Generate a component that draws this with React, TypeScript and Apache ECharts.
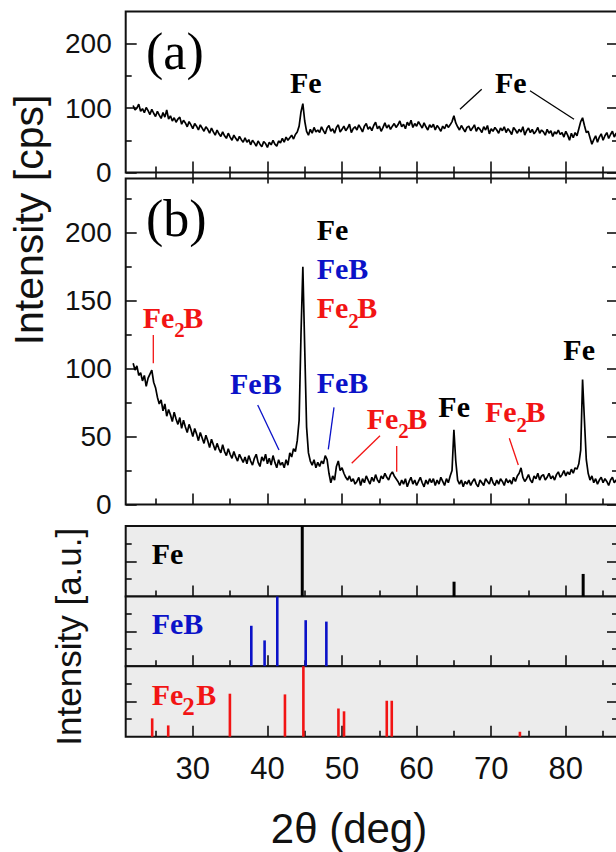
import React, { useEffect, useRef } from 'react';
import * as echarts from 'echarts';

// 2theta grid of the measured patterns (deg)
const ANGLE_START = 22;
const ANGLE_STEP = 0.25;

// (a) measured intensity [cps], 22.00 ... 87.00 deg
const INTENSITY_A = [
  104, 97, 100, 106, 95, 99, 93, 101, 96, 90, 98, 92, 87, 95, 89, 84, 93, 86, 97, 83,
  88, 80, 85, 78, 83, 86, 75, 81, 77, 71, 79, 74, 68, 76, 72, 66, 74, 69, 64, 71,
  67, 61, 69, 63, 58, 66, 60, 56, 63, 57, 53, 61, 55, 50, 58, 53, 49, 56, 51, 47,
  54, 47, 51, 43, 50, 46, 41, 49, 44, 40, 48, 45, 39, 47, 43, 50, 44, 41, 49, 46,
  53, 47, 55, 50, 54, 58, 52, 59, 63, 72, 94, 107, 80, 64, 58, 67, 61, 70, 63, 66,
  62, 71, 65, 60, 69, 73, 64, 68, 61, 70, 74, 63, 67, 72, 65, 69, 75, 62, 68, 71,
  66, 74, 69, 63, 72, 76, 67, 71, 65, 73, 78, 68, 72, 64, 70, 77, 69, 74, 67, 72,
  76, 70, 74, 80, 71, 75, 68, 78, 73, 81, 70, 76, 72, 79, 74, 69, 77, 71, 66, 74,
  70, 75, 66, 73, 69, 64, 72, 68, 75, 70, 74, 79, 88, 77, 71, 66, 73, 68, 63, 70,
  72, 65, 69, 74, 64, 70, 67, 62, 71, 66, 73, 60, 68, 64, 70, 66, 61, 69, 65, 71,
  62, 68, 64, 59, 70, 66, 61, 67, 63, 71, 58, 65, 69, 62, 67, 60, 64, 70, 61, 66,
  63, 58, 67, 61, 65, 56, 63, 60, 66, 59, 62, 55, 64, 58, 50, 61, 54, 62, 57, 68,
  79, 85, 73, 62, 64, 54, 44, 51, 57, 47, 55, 60, 50, 57, 62, 53, 59, 64, 55, 61,
  57,
];

// (b) measured intensity [cps], 22.00 ... 87.00 deg
const INTENSITY_B = [
  104, 99, 102, 95, 97, 91, 95, 87, 93, 96, 99, 90, 86, 79, 74, 77, 69, 74, 65, 70,
  66, 61, 68, 63, 59, 64, 56, 62, 57, 53, 59, 55, 50, 56, 52, 47, 53, 49, 45, 51,
  47, 42, 48, 44, 40, 45, 41, 38, 44, 39, 36, 41, 37, 34, 39, 35, 32, 37, 34, 31,
  35, 30, 36, 32, 29, 34, 37, 31, 28, 35, 32, 37, 30, 34, 29, 36, 31, 27, 33, 29,
  31, 27, 33, 29, 38, 35, 41, 39, 47, 62, 125, 175, 115, 57, 38, 32, 29, 33, 27, 31,
  28, 32, 30, 36, 33, 23, 16, 21, 18, 28, 32, 25, 27, 23, 20, 18, 21, 17, 19, 15,
  17, 20, 14, 19, 16, 21, 18, 15, 20, 17, 22, 18, 16, 21, 19, 23, 20, 18, 22, 24,
  21, 19, 17, 14, 18, 15, 19, 13, 17, 20, 15, 18, 14, 17, 20, 16, 13, 18, 15, 19,
  16, 19, 14, 18, 15, 20, 17, 14, 19, 16, 21, 25, 55, 32, 18, 15, 18, 13, 17, 15,
  18, 14, 17, 19, 15, 13, 18, 16, 14, 19, 17, 15, 20, 16, 14, 18, 15, 19, 17, 14,
  19, 16, 18, 15, 20, 17, 21, 23, 27, 20, 17, 19, 22, 18, 16, 21, 19, 23, 18, 21,
  22, 18, 20, 23, 19, 21, 18, 22, 24, 20, 22, 25, 21, 24, 22, 26, 23, 27, 26, 30,
  40, 92, 62, 33, 23, 18, 21, 16, 19, 15, 18, 20, 16, 19, 17, 14, 18, 20, 16, 18,
  17,
];

// reference patterns (relative intensity %)
const FE_POS = [44.67, 65.02, 82.33];
const FE_INT = [100, 21, 32];
const FEB_POS = [37.84, 39.62, 41.32, 45.13, 47.9];
const FEB_INT = [58, 37, 100, 66, 64];
const FE2B_POS = [24.55, 26.7, 34.97, 42.35, 44.82, 49.52, 50.27, 56.0, 56.67, 73.85];
const FE2B_INT = [26, 16, 61, 60, 100, 40, 36, 51, 51, 7];

// tick values
const X_TICKS = [30, 40, 50, 60, 70, 80];
const X_MINOR = [25, 35, 45, 55, 65, 75, 85];
const YA_TICKS = [0, 100, 200];
const YA_MINOR = [50, 150];
const YB_TICKS = [0, 50, 100, 150, 200];
const YB_MINOR = [25, 75, 125, 175, 225];
const REF_TICKS = [50];
const REF_MINOR = [25, 75];

const X_MIN = 21;
const X_MAX = 87;

const RED = '#f21414';
const BLUE = '#0b12c8';
const INK = '#111111';
const SANS = '"Liberation Sans", Arial, sans-serif';
const SERIF = '"Liberation Serif", "Times New Roman", serif';

function buildOption() {
  const LEFT = 125.7;
  const WIDTH = 492.3;
  const gridDefs = [
    { top: 11.5, height: 161, bg: false, yMax: 250, yT: YA_TICKS, yM: YA_MINOR, yLab: true, topTicks: true },
    { top: 178.5, height: 326, bg: false, yMax: 240, yT: YB_TICKS, yM: YB_MINOR, yLab: true, topTicks: false },
    { top: 526, height: 70.5, bg: true, yMax: 100, yT: REF_TICKS, yM: REF_MINOR, yLab: false, topTicks: false },
    { top: 596.5, height: 69.7, bg: true, yMax: 100, yT: REF_TICKS, yM: REF_MINOR, yLab: false, topTicks: false },
    { top: 666.2, height: 70.5, bg: true, yMax: 100, yT: REF_TICKS, yM: REF_MINOR, yLab: false, topTicks: false },
  ];

  const grid: any[] = [];
  const xAxis: any[] = [];
  const yAxis: any[] = [];
  const baseX: number[] = [];
  const baseY: number[] = [];

  const tickStyle = { color: INK, width: 1.6 };

  const mkX = (g: number, position: string, ticks: number[], len: number, labels: boolean) => ({
    type: 'value',
    gridIndex: g,
    position,
    min: X_MIN,
    max: X_MAX,
    axisLine: { show: false },
    axisTick: { show: true, inside: true, length: len, customValues: ticks, lineStyle: tickStyle },
    axisLabel: labels
      ? { show: true, customValues: ticks, fontSize: 31, fontFamily: SANS, color: INK, margin: 16 }
      : { show: false },
    splitLine: { show: false },
    minorTick: { show: false },
  });
  const mkY = (g: number, position: string, max: number, ticks: number[], len: number, labels: boolean) => ({
    type: 'value',
    gridIndex: g,
    position,
    min: 0,
    max,
    axisLine: { show: false },
    axisTick: { show: true, inside: true, length: len, customValues: ticks, lineStyle: tickStyle },
    axisLabel: labels
      ? { show: true, customValues: ticks, fontSize: 28, fontFamily: SANS, color: INK, margin: 14 }
      : { show: false },
    splitLine: { show: false },
    minorTick: { show: false },
  });

  gridDefs.forEach((d, g) => {
    grid.push({
      left: LEFT,
      top: d.top,
      width: WIDTH,
      height: d.height,
      show: true,
      borderColor: INK,
      borderWidth: 2,
      backgroundColor: d.bg ? '#ececec' : 'rgba(0,0,0,0)',
      containLabel: false,
      outerBoundsMode: 'none',
    });
    baseX.push(xAxis.length);
    xAxis.push(mkX(g, 'bottom', X_TICKS, 11, g === 4));
    xAxis.push(mkX(g, 'bottom', X_MINOR, 6, false));
    if (d.topTicks) {
      xAxis.push(mkX(g, 'top', X_TICKS, 11, false));
      xAxis.push(mkX(g, 'top', X_MINOR, 6, false));
    }
    baseY.push(yAxis.length);
    yAxis.push(mkY(g, 'left', d.yMax, d.yT, 11, d.yLab));
    yAxis.push(mkY(g, 'left', d.yMax, d.yM, 6, false));
    yAxis.push(mkY(g, 'right', d.yMax, d.yT, 11, false));
    yAxis.push(mkY(g, 'right', d.yMax, d.yM, 6, false));
  });

  const lineData = (vals: number[]) => vals.map((v, i) => [ANGLE_START + i * ANGLE_STEP, v]);
  const stickData = (pos: number[], inten: number[]) => pos.map((p, i) => [p, inten[i]]);

  const series: any[] = [
    {
      type: 'line', xAxisIndex: baseX[0], yAxisIndex: baseY[0], data: lineData(INTENSITY_A),
      showSymbol: false, symbol: 'none', lineStyle: { color: '#000', width: 1.7 }, clip: true, silent: true,
    },
    {
      type: 'line', xAxisIndex: baseX[1], yAxisIndex: baseY[1], data: lineData(INTENSITY_B),
      showSymbol: false, symbol: 'none', lineStyle: { color: '#000', width: 1.7 }, clip: true, silent: true,
    },
    {
      type: 'bar', xAxisIndex: baseX[2], yAxisIndex: baseY[2], data: stickData(FE_POS, FE_INT),
      barWidth: 3, itemStyle: { color: '#000' }, silent: true,
    },
    {
      type: 'bar', xAxisIndex: baseX[3], yAxisIndex: baseY[3], data: stickData(FEB_POS, FEB_INT),
      barWidth: 2.6, itemStyle: { color: BLUE }, silent: true,
    },
    {
      type: 'bar', xAxisIndex: baseX[4], yAxisIndex: baseY[4], data: stickData(FE2B_POS, FE2B_INT),
      barWidth: 2.6, itemStyle: { color: RED }, silent: true,
    },
  ];

  const txt = (x: number, y: number, text: string, fill: string, size = 30, bold = true, family = SERIF) => ({
    type: 'text',
    x,
    y,
    z: 100,
    style: {
      text,
      fill,
      font: `${bold ? 'bold ' : ''}${size}px ${family}`,
      textAlign: 'left',
      verticalAlign: 'middle',
    },
  });
  const fe2b = (x: number, y: number, fill: string, subSize = 21, subDy = 13, subX = 31.5, bX = 40.5) => [
    txt(x, y, 'Fe', fill),
    txt(x + subX, y + subDy, '2', fill, subSize),
    txt(x + bX, y, 'B', fill),
  ];
  const seg = (x1: number, y1: number, x2: number, y2: number, stroke: string) => ({
    type: 'line',
    z: 100,
    shape: { x1, y1, x2, y2 },
    style: { stroke, lineWidth: 1.3 },
  });

  const graphic: any[] = [
    // panel letters
    txt(146, 51, '(a)', '#000', 52, false),
    txt(146, 218.5, '(b)', '#000', 52, false),
    // (a)
    txt(290, 82.5, 'Fe', '#000'),
    txt(495, 82.7, 'Fe', '#000'),
    seg(481.7, 89.3, 460, 109.3, '#000'),
    seg(530, 90.7, 574, 119.3, '#000'),
    // (b)
    ...fe2b(142.7, 317, RED),
    seg(153.3, 335, 153.3, 363.3, RED),
    txt(230, 383, 'FeB', BLUE),
    seg(257.7, 405, 279, 450, BLUE),
    txt(316.7, 229, 'Fe', '#000'),
    txt(316.7, 268.3, 'FeB', BLUE),
    ...fe2b(316.7, 307.5, RED),
    txt(316.7, 382, 'FeB', BLUE),
    seg(334, 407.3, 328.3, 449.3, BLUE),
    ...fe2b(366.7, 418, RED),
    seg(380, 435.7, 351.7, 463.3, RED),
    seg(396.7, 446, 396.7, 471.7, RED),
    txt(438.3, 406.7, 'Fe', '#000'),
    ...fe2b(485, 411.7, RED),
    seg(509.3, 438.3, 518.3, 465, RED),
    txt(563.3, 349.7, 'Fe', '#000'),
    // reference panels
    txt(151.7, 553.3, 'Fe', '#000'),
    txt(151.7, 623.3, 'FeB', BLUE),
    ...fe2b(151.7, 694.5, RED, 25, 12, 30.5, 44.5),
    // axis titles
    {
      type: 'text', x: 29, y: 220, rotation: Math.PI / 2, z: 100,
      style: { text: 'Intensity [cps]', fill: INK, font: `41px ${SANS}`, textAlign: 'center', verticalAlign: 'middle' },
    },
    {
      type: 'text', x: 68, y: 636.7, rotation: Math.PI / 2, z: 100,
      style: { text: 'Intensity [a.u.]', fill: INK, font: `35px ${SANS}`, textAlign: 'center', verticalAlign: 'middle' },
    },
    {
      type: 'text', x: 349, y: 828.4, z: 100,
      style: { text: '2θ (deg)', fill: INK, font: `42px ${SANS}`, textAlign: 'center', verticalAlign: 'middle' },
    },
  ];

  return {
    animation: false,
    backgroundColor: '#ffffff',
    grid,
    xAxis,
    yAxis,
    series,
    graphic,
  };
}

export default function App() {
  const ref = useRef<HTMLDivElement>(null);
  useEffect(() => {
    if (!ref.current) return;
    const chart = echarts.init(ref.current, null, { renderer: 'svg' });
    chart.setOption(buildOption() as any);
    return () => chart.dispose();
  }, []);
  return (
    <div
      ref={ref}
      style={{ position: 'absolute', left: 0, top: 0, width: 616, height: 852, background: '#fff' }}
    />
  );
}
